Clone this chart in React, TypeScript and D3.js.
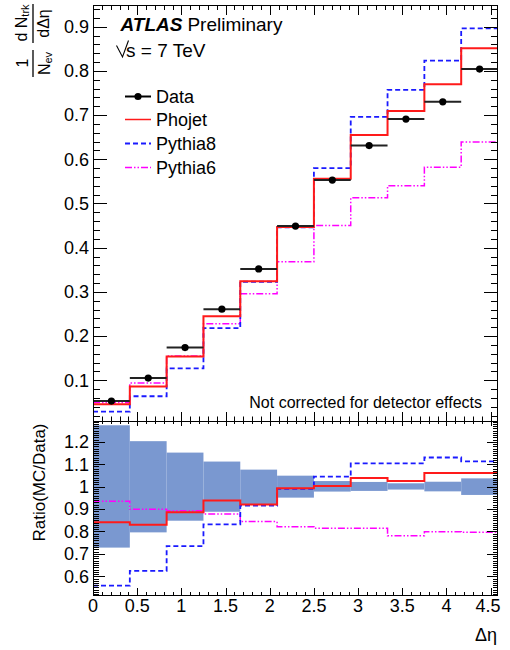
import React from 'react';
import * as d3 from 'd3';

// ---- data ----
const binEdges = [0, 0.4167, 0.8333, 1.25, 1.6667, 2.0833, 2.5, 2.9167, 3.3333, 3.75, 4.1667, 4.5833];
const dataValues = [0.053, 0.105, 0.174, 0.261, 0.352, 0.449, 0.553, 0.631, 0.691, 0.730, 0.804];
const phojetValues = [0.046, 0.086, 0.154, 0.245, 0.324, 0.447, 0.556, 0.655, 0.709, 0.770, 0.851];
const pythia8Values = [0.029, 0.064, 0.127, 0.218, 0.323, 0.446, 0.580, 0.696, 0.757, 0.823, 0.896];
const pythia6Values = [0.050, 0.094, 0.155, 0.228, 0.296, 0.368, 0.450, 0.513, 0.540, 0.582, 0.639];

const ratioPhojet = [0.841, 0.830, 0.886, 0.938, 0.920, 0.993, 1.003, 1.039, 1.025, 1.061, 1.061];
const ratioPythia8 = [0.558, 0.624, 0.735, 0.832, 0.915, 0.990, 1.045, 1.104, 1.104, 1.130, 1.113];
const ratioPythia6 = [0.935, 0.899, 0.893, 0.878, 0.844, 0.821, 0.814, 0.814, 0.781, 0.799, 0.796];
const bandLow = [0.728, 0.796, 0.848, 0.888, 0.918, 0.951, 0.978, 0.981, 0.987, 0.979, 0.963];
const bandHigh = [1.274, 1.203, 1.152, 1.112, 1.076, 1.049, 1.025, 1.021, 1.015, 1.022, 1.037];

const topTickValues = [0.1, 0.2, 0.3, 0.4, 0.5, 0.6, 0.7, 0.8, 0.9];
const topTickLabels = ['0.1', '0.2', '0.3', '0.4', '0.5', '0.6', '0.7', '0.8', '0.9'];
const ratioTickValues = [0.6, 0.7, 0.8, 0.9, 1.0, 1.1, 1.2];
const ratioTickLabels = ['0.6', '0.7', '0.8', '0.9', '1', '1.1', '1.2'];
const xTickValues = [0, 0.5, 1, 1.5, 2, 2.5, 3, 3.5, 4, 4.5];
const xTickLabels = ['0', '0.5', '1', '1.5', '2', '2.5', '3', '3.5', '4', '4.5'];

const legendNames = ['Data', 'Phojet', 'Pythia8', 'Pythia6'];

const FONT = 'Liberation Sans, Arial, Helvetica, sans-serif';
const RED = '#ff1a1a';
const BLUE = '#1a1aff';
const MAGENTA = '#ff00ff';
const BAND = '#7a98d0';
const DASH_BLUE = '5,3';
const DASH_MAG = '7,2,1.5,2,1.5,2';

const L = 93, R = 498, T0 = 5, T1 = 421, B1 = 596;

const isMajor = (v: number, majors: number[]) => majors.some((m) => Math.abs(m - v) < 1e-6);

export default function App() {
  const x = d3.scaleLinear().domain([0, 4.5833]).range([L, R]);
  const yTop = d3.scaleLinear().domain([0.008, 0.949]).range([T1, T0]);
  const yBot = d3.scaleLinear().domain([0.512, 1.293]).range([B1, T1]);

  const step = (vals: number[], y: d3.ScaleLinear<number, number>) => {
    const pts: [number, number][] = vals.map((v, i) => [binEdges[i], v]);
    pts.push([binEdges[vals.length], vals[vals.length - 1]]);
    return d3.line<[number, number]>().x((d) => x(d[0])).y((d) => y(d[1])).curve(d3.curveStepAfter)(pts) || '';
  };

  const xMinor = d3.range(0, 4.58, 0.1).map((v) => Math.round(v * 10) / 10).filter((v) => !isMajor(v, xTickValues));
  const topMinor = d3.range(0.02, 0.949, 0.02).map((v) => Math.round(v * 100) / 100).filter((v) => !isMajor(v, topTickValues));
  const botMinor = d3.range(0.52, 1.293, 0.01).map((v) => Math.round(v * 100) / 100).filter((v) => !isMajor(v, ratioTickValues));

  const tickLines: React.ReactNode[] = [];
  let k = 0;
  const hTick = (xx: number, y1: number, y2: number) =>
    tickLines.push(<line key={k++} x1={xx} x2={xx} y1={y1} y2={y2} stroke="#000" strokeWidth={1} />);
  const vTick = (yy: number, x1: number, x2: number) =>
    tickLines.push(<line key={k++} x1={x1} x2={x2} y1={yy} y2={yy} stroke="#000" strokeWidth={1} />);

  // x ticks
  xTickValues.forEach((v) => {
    const xx = Math.round(x(v)) + 0.5;
    hTick(xx, T0, T0 + 10);
    hTick(xx, T1, T1 - 9);
    hTick(xx, T1, T1 + 5);
    hTick(xx, B1, B1 - 8);
  });
  xMinor.forEach((v) => {
    const xx = Math.round(x(v)) + 0.5;
    hTick(xx, T0, T0 + 5);
    hTick(xx, T1, T1 - 4.5);
    hTick(xx, T1, T1 + 3);
    hTick(xx, B1, B1 - 4);
  });
  // top y ticks
  topTickValues.forEach((v) => {
    const yy = Math.round(yTop(v)) + 0.5;
    vTick(yy, L, L + 14);
    vTick(yy, R, R - 14);
  });
  topMinor.forEach((v) => {
    const yy = Math.round(yTop(v)) + 0.5;
    vTick(yy, L, L + 7);
    vTick(yy, R, R - 7);
  });
  // ratio y ticks
  ratioTickValues.forEach((v) => {
    const yy = Math.round(yBot(v)) + 0.5;
    vTick(yy, L, L + 12);
    vTick(yy, R, R - 11);
  });
  botMinor.forEach((v) => {
    const yy = Math.round(yBot(v)) + 0.5;
    vTick(yy, L, L + 6);
    vTick(yy, R, R - 5);
  });

  const legendY = [96.5, 119.5, 143.5, 167.5];

  return (
    <svg width={510} height={650} style={{ position: 'absolute', left: 0, top: 0, background: '#fff' }} fontFamily={FONT}>
      <defs>
        <clipPath id="clipTop"><rect x={L} y={T0} width={R - L} height={T1 - T0} /></clipPath>
        <clipPath id="clipBot"><rect x={L} y={T1} width={R - L} height={B1 - T1} /></clipPath>
      </defs>
      <rect x={0} y={0} width={510} height={650} fill="#fff" />

      {/* ---- top panel ---- */}
      <g clipPath="url(#clipTop)">
        <path d={step(pythia6Values, yTop)} fill="none" stroke={MAGENTA} strokeWidth={1.5} strokeDasharray={DASH_MAG} />
        <path d={step(pythia8Values, yTop)} fill="none" stroke={BLUE} strokeWidth={1.8} strokeDasharray={DASH_BLUE} />
        <path d={step(phojetValues, yTop)} fill="none" stroke={RED} strokeWidth={2} />
        {dataValues.map((v, i) => (
          <g key={i}>
            <line x1={x(binEdges[i])} x2={x(binEdges[i + 1])} y1={yTop(v)} y2={yTop(v)} stroke="#222" strokeWidth={2} />
            <circle cx={(x(binEdges[i]) + x(binEdges[i + 1])) / 2} cy={yTop(v)} r={3.6} fill="#000" />
          </g>
        ))}
      </g>

      {/* ---- ratio panel ---- */}
      <g clipPath="url(#clipBot)">
        {bandLow.map((lo, i) => (
          <rect key={i} x={x(binEdges[i])} width={x(binEdges[i + 1]) - x(binEdges[i])}
            y={yBot(bandHigh[i])} height={yBot(lo) - yBot(bandHigh[i])} fill={BAND} />
        ))}
        <path d={step(ratioPythia6, yBot)} fill="none" stroke={MAGENTA} strokeWidth={1.5} strokeDasharray={DASH_MAG} />
        <path d={step(ratioPythia8, yBot)} fill="none" stroke={BLUE} strokeWidth={1.8} strokeDasharray={DASH_BLUE} />
        <path d={step(ratioPhojet, yBot)} fill="none" stroke={RED} strokeWidth={2} />
      </g>

      {/* frames and ticks */}
      {tickLines}
      <rect x={L + 0.5} y={T0 + 0.5} width={R - L - 1} height={T1 - T0} fill="none" stroke="#000" strokeWidth={1} />
      <rect x={L + 0.5} y={T1 + 0.5} width={R - L - 1} height={B1 - T1 - 1} fill="none" stroke="#000" strokeWidth={1} />

      {/* tick labels */}
      {topTickValues.map((v, i) => (
        <text key={i} x={89} y={yTop(v) + 6.3} fontSize={18} textAnchor="end" fill="#000">{topTickLabels[i]}</text>
      ))}
      {ratioTickValues.map((v, i) => (
        <text key={i} x={89} y={yBot(v) + 6.3} fontSize={18} textAnchor="end" fill="#000">{ratioTickLabels[i]}</text>
      ))}
      {xTickValues.map((v, i) => (
        <text key={i} x={Math.min(x(v), 488)} y={611.5} fontSize={18} textAnchor="middle" fill="#000">{xTickLabels[i]}</text>
      ))}

      {/* axis titles */}
      <text x={497} y={641} fontSize={18} textAnchor="end" fill="#000">Δη</text>
      <text transform="translate(44.5,482.5) rotate(-90)" fontSize={17} textAnchor="middle" fill="#000">Ratio(MC/Data)</text>
      <g transform="translate(33,80) rotate(-90)" fill="#000">
        <line x1={3} x2={30} y1={0} y2={0} stroke="#000" strokeWidth={1.3} />
        <text x={17} y={-5} fontSize={16} textAnchor="middle">1</text>
        <text x={16.5} y={17} fontSize={16} textAnchor="middle">N<tspan fontSize={11} dy={2}>ev</tspan></text>
        <line x1={37} x2={76} y1={0} y2={0} stroke="#000" strokeWidth={1.3} />
        <text x={57} y={-6} fontSize={16} textAnchor="middle">d N<tspan fontSize={11} dy={2}>trk</tspan></text>
        <text x={56.5} y={16} fontSize={16} textAnchor="middle">dΔη</text>
      </g>

      {/* ATLAS label */}
      <text x={120.5} y={31} fontSize={19} fill="#000">
        <tspan fontWeight="bold" fontStyle="italic">ATLAS</tspan>
        <tspan dx={5}>Preliminary</tspan>
      </text>
      <path d="M116.5,45.5 L122.5,57 L128.5,40.5" fill="none" stroke="#000" strokeWidth={1.1} />
      <text x={126} y={57} fontSize={19} fill="#000">s = 7 TeV</text>

      {/* legend */}
      <line x1={125} x2={151} y1={legendY[0]} y2={legendY[0]} stroke="#000" strokeWidth={2} />
      <circle cx={138} cy={legendY[0]} r={3.6} fill="#000" />
      <line x1={125} x2={151} y1={legendY[1]} y2={legendY[1]} stroke={RED} strokeWidth={1.5} />
      <line x1={125} x2={151} y1={legendY[2]} y2={legendY[2]} stroke={BLUE} strokeWidth={1.8} strokeDasharray={DASH_BLUE} />
      <line x1={125} x2={151} y1={legendY[3]} y2={legendY[3]} stroke={MAGENTA} strokeWidth={1.5} strokeDasharray={DASH_MAG} />
      {legendNames.map((n, i) => (
        <text key={n} x={156} y={legendY[i] + 6.5} fontSize={18} fill="#000">{n}</text>
      ))}

      <text x={482} y={407.5} fontSize={16} textAnchor="end" fill="#000">Not corrected for detector effects</text>
    </svg>
  );
}
